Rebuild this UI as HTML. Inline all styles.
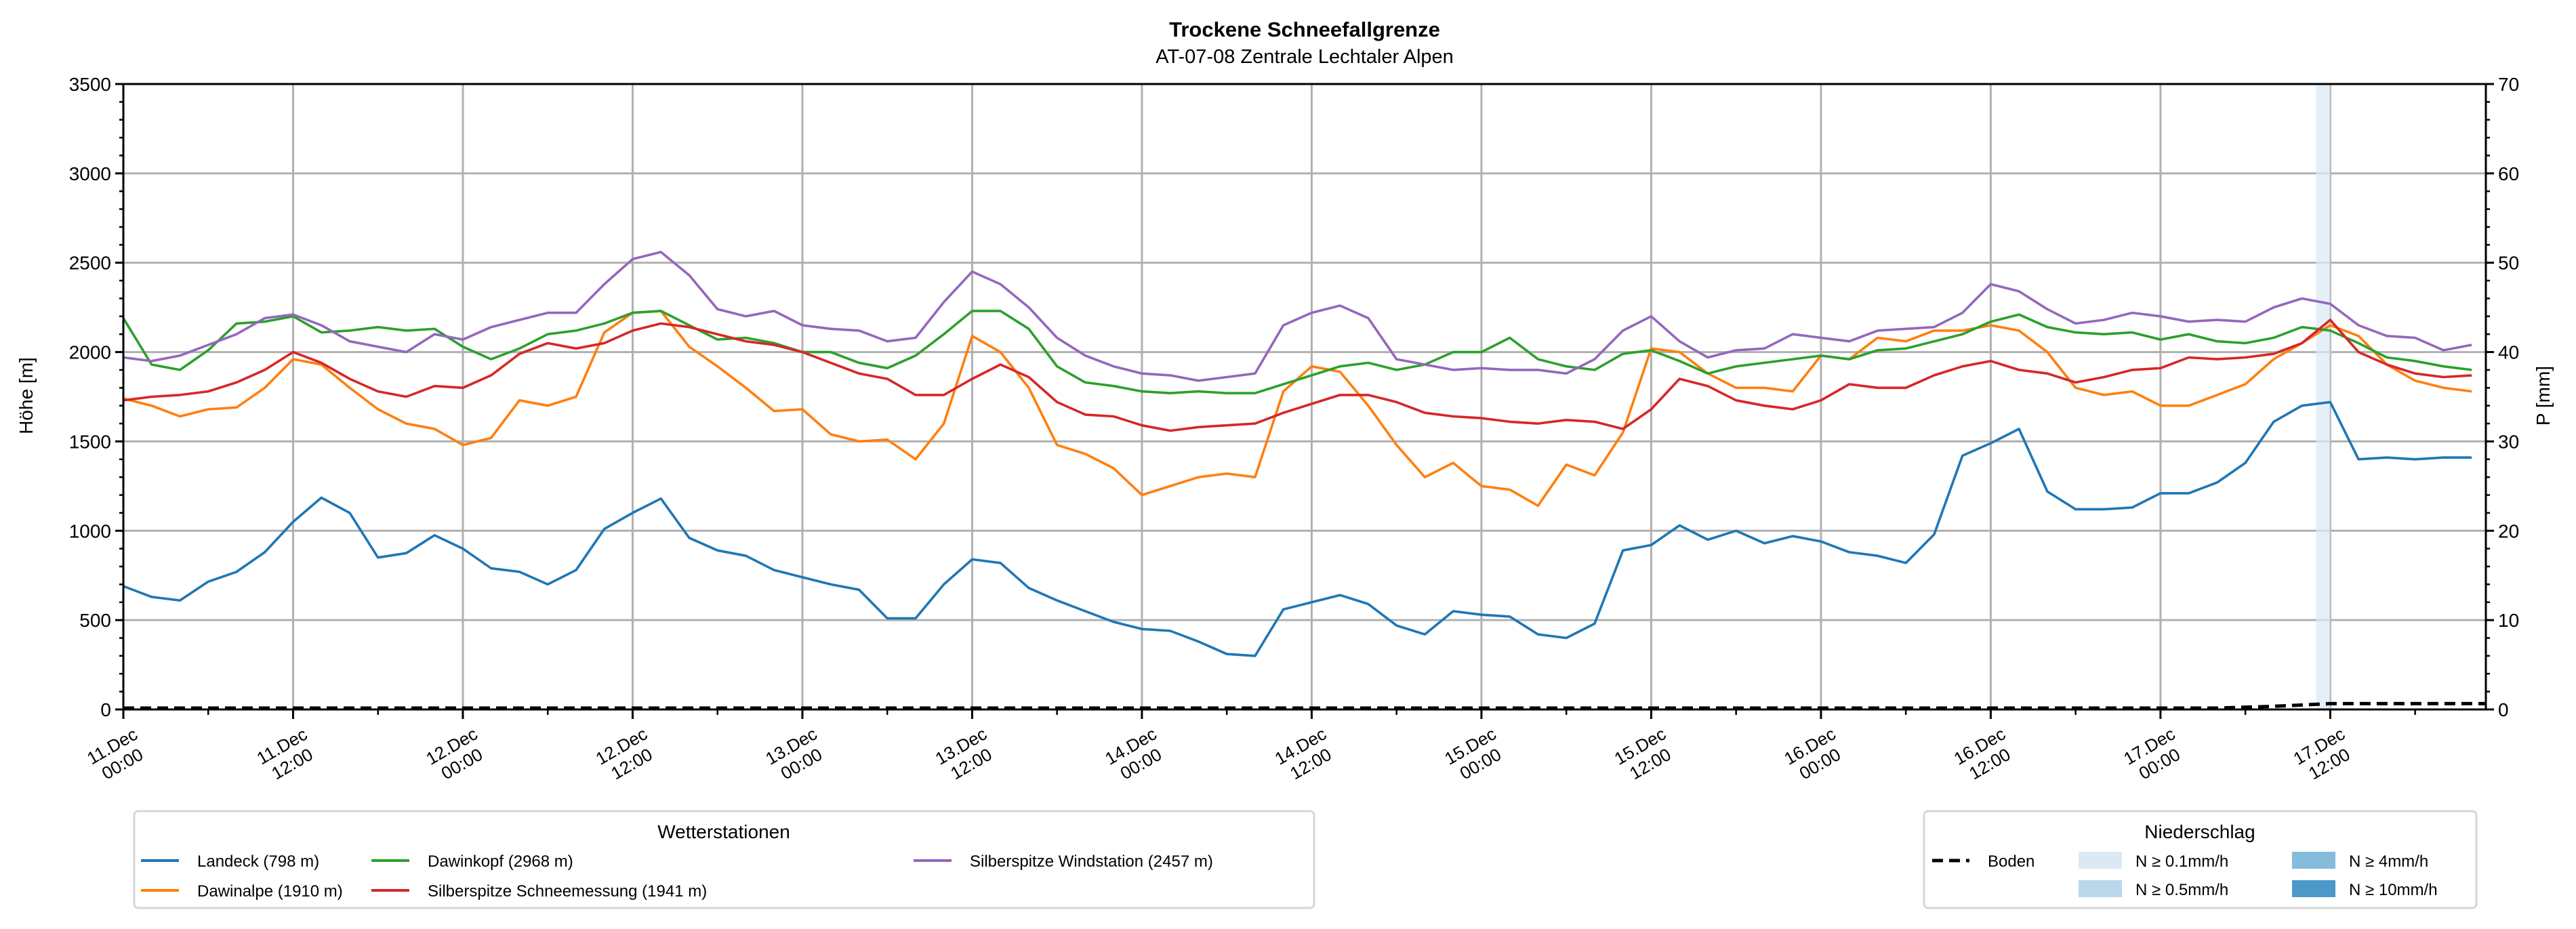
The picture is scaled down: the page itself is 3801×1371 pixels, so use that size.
<!DOCTYPE html>
<html><head><meta charset="utf-8"><style>
html,body{margin:0;padding:0;background:#fff}
svg{display:block;font-family:"Liberation Sans","DejaVu Sans",sans-serif}
</style></head><body>
<svg id="chart" width="3801" height="1371" viewBox="0 0 3801 1371" xmlns="http://www.w3.org/2000/svg">
<text x="1925" y="54" text-anchor="middle" font-size="31" font-weight="bold">Trockene Schneefallgrenze</text>
<text x="1925" y="93" text-anchor="middle" font-size="29">AT-07-08 Zentrale Lechtaler Alpen</text>
<g id="grid"></g>
<g id="precip"></g>
<g id="series"></g>
<g id="axes"></g>
<text transform="translate(48,584) rotate(-90)" text-anchor="middle" font-size="28">Höhe [m]</text>
<text transform="translate(3762,584) rotate(-90)" text-anchor="middle" font-size="28">P [mm]</text>
<g>
<rect x="198" y="1197" width="1741" height="143" rx="6" fill="#fff" stroke="#d6d6d6" stroke-width="3"/>
<text x="1068" y="1237" text-anchor="middle" font-size="28">Wetterstationen</text>
</g>
<g id="legend1"></g>
<g>
<rect x="2839" y="1197" width="815" height="143" rx="6" fill="#fff" stroke="#d6d6d6" stroke-width="3"/>
<text x="3246" y="1237" text-anchor="middle" font-size="28">Niederschlag</text>
<line x1="2851" y1="1270" x2="2906" y2="1270" stroke="#000" stroke-width="5" stroke-dasharray="16,9"/>
<text x="2933" y="1279" font-size="24">Boden</text>
<rect x="3067" y="1257" width="64" height="25" fill="#dbe9f6"/>
<text x="3151" y="1279" font-size="24">N ≥ 0.1mm/h</text>
<rect x="3067" y="1299" width="64" height="25" fill="#bad6eb"/>
<text x="3151" y="1321" font-size="24">N ≥ 0.5mm/h</text>
<rect x="3382" y="1257" width="64" height="25" fill="#84bcdb"/>
<text x="3466" y="1279" font-size="24">N ≥ 4mm/h</text>
<rect x="3382" y="1299" width="64" height="25" fill="#4b98c9"/>
<text x="3466" y="1321" font-size="24">N ≥ 10mm/h</text>
</g>
</svg>
<script>
const hoursStep = 2;
const xTickLabels = ["11.Dec|00:00","11.Dec|12:00","12.Dec|00:00","12.Dec|12:00","13.Dec|00:00","13.Dec|12:00","14.Dec|00:00","14.Dec|12:00","15.Dec|00:00","15.Dec|12:00","16.Dec|00:00","16.Dec|12:00","17.Dec|00:00","17.Dec|12:00"];
const yTicks = [0,500,1000,1500,2000,2500,3000,3500];
const y2Ticks = [0,10,20,30,40,50,60,70];
const stationNames = ["Landeck (798 m)","Dawinalpe (1910 m)","Dawinkopf (2968 m)","Silberspitze Schneemessung (1941 m)","Silberspitze Windstation (2457 m)"];
const landeck = [690,630,610,715,770,880,1050,1185,1100,850,875,975,900,790,770,700,780,1010,1100,1180,960,890,860,780,740,700,670,510,510,700,840,820,680,610,550,490,450,440,380,310,300,560,600,640,590,470,420,550,530,520,420,400,480,890,920,1030,950,1000,930,970,940,880,860,820,980,1420,1490,1570,1220,1120,1120,1130,1210,1210,1270,1380,1610,1700,1720,1400,1410,1400,1410,1410];
const dawinalpe = [1740,1700,1640,1680,1690,1800,1960,1930,1800,1680,1600,1570,1480,1520,1730,1700,1750,2110,2220,2230,2030,1920,1800,1670,1680,1540,1500,1510,1400,1600,2090,2000,1800,1480,1430,1350,1200,1250,1300,1320,1300,1780,1920,1890,1700,1480,1300,1380,1250,1230,1140,1370,1310,1550,2020,2000,1880,1800,1800,1780,1980,1960,2080,2060,2120,2120,2150,2120,2000,1800,1760,1780,1700,1700,1760,1820,1960,2050,2150,2090,1930,1840,1800,1780];
const dawinkopf = [2190,1930,1900,2010,2160,2170,2200,2110,2120,2140,2120,2130,2030,1960,2020,2100,2120,2160,2220,2230,2150,2070,2080,2050,2000,2000,1940,1910,1980,2100,2230,2230,2130,1920,1830,1810,1780,1770,1780,1770,1770,1820,1870,1920,1940,1900,1930,2000,2000,2080,1960,1920,1900,1990,2010,1950,1880,1920,1940,1960,1980,1960,2010,2020,2060,2100,2170,2210,2140,2110,2100,2110,2070,2100,2060,2050,2080,2140,2120,2050,1970,1950,1920,1900];
const schneemessung = [1730,1750,1760,1780,1830,1900,2000,1940,1850,1780,1750,1810,1800,1870,1990,2050,2020,2050,2120,2160,2140,2100,2060,2040,2000,1940,1880,1850,1760,1760,1850,1930,1860,1720,1650,1640,1590,1560,1580,1590,1600,1660,1710,1760,1760,1720,1660,1640,1630,1610,1600,1620,1610,1570,1680,1850,1810,1730,1700,1680,1730,1820,1800,1800,1870,1920,1950,1900,1880,1830,1860,1900,1910,1970,1960,1970,1990,2050,2180,2000,1930,1880,1860,1870];
const windstation = [1970,1950,1980,2040,2100,2190,2210,2150,2060,2030,2000,2100,2070,2140,2180,2220,2220,2380,2520,2560,2430,2240,2200,2230,2150,2130,2120,2060,2080,2280,2450,2380,2250,2080,1980,1920,1880,1870,1840,1860,1880,2150,2220,2260,2190,1960,1930,1900,1910,1900,1900,1880,1960,2120,2200,2060,1970,2010,2020,2100,2080,2060,2120,2130,2140,2220,2380,2340,2240,2160,2180,2220,2200,2170,2180,2170,2250,2300,2270,2150,2090,2080,2010,2040];
const bodenHours = [0,148,152,156,160,167];
const bodenValues = [0,0,0.2,0.5,0.5,0.5];
const precipHours = [155];
const precipRates = [0.2];

const colors = ["#1f77b4","#ff7f0e","#2ca02c","#d62728","#9467bd"];
const seriesData = [landeck,dawinalpe,dawinkopf,schneemessung,windstation];
const L=182,R=3668,T=124,B=1047,HMAX=167;
const xs = h => L + h/HMAX*(R-L);
const ys = v => B - v/3500*(B-T);
const y2 = v => B - v/70*(B-T);
const NS="http://www.w3.org/2000/svg";
function mk(tag, parent, attrs){const e=document.createElementNS(NS,tag);for(const k in attrs)e.setAttribute(k,attrs[k]);parent.appendChild(e);return e;}
const grid=document.getElementById('grid'), axes=document.getElementById('axes'), ser=document.getElementById('series'), pr=document.getElementById('precip'), leg=document.getElementById('legend1');

yTicks.forEach(v=>{
  const g=mk('line',grid,{x1:L,x2:R,y1:ys(v),y2:ys(v),stroke:'#b0b0b0','stroke-width':3});
  
  
  const t=mk('line',axes,{x1:L-12,x2:L,y1:ys(v),y2:ys(v),stroke:'#000','stroke-width':3});
  
  
  const lb=mk('text',axes,{x:L-18,y:ys(v)+10,'text-anchor':'end','font-size':28});
  lb.textContent=v;
  
  
});
for(let v=100;v<3500;v+=100){ if(v%500===0) continue;
  const t=mk('line',axes,{x1:L-6,x2:L,y1:ys(v),y2:ys(v),stroke:'#000','stroke-width':2.5});
  
  
}
y2Ticks.forEach(v=>{
  const t=mk('line',axes,{x1:R,x2:R+12,y1:y2(v),y2:y2(v),stroke:'#000','stroke-width':3});
  
  
  const lb=mk('text',axes,{x:R+18,y:y2(v)+10,'font-size':28});
  lb.textContent=v;
  
  
});
for(let v=2;v<70;v+=2){ if(v%10===0) continue;
  const t=mk('line',axes,{x1:R,x2:R+6,y1:y2(v),y2:y2(v),stroke:'#000','stroke-width':2.5});
  
  
}
xTickLabels.forEach((s,i)=>{
  const x=xs(i*12);
  const g=mk('line',grid,{x1:x,x2:x,y1:T,y2:B,stroke:'#b0b0b0','stroke-width':3});
  
  
  const t=mk('line',axes,{x1:x,x2:x,y1:B,y2:B+14,stroke:'#000','stroke-width':3});
  
  
  const parts=s.split('|');
  const tx=mk('text',axes,{transform:`translate(${x-12},${B+62}) rotate(-30)`,'text-anchor':'middle','font-size':26});
  
  
  const a=mk('tspan',tx,{x:0,y:0}); a.textContent=parts[0];
  const b=mk('tspan',tx,{x:0,y:30}); b.textContent=parts[1];
});
for(let i=0;i<14;i++){const x=xs(i*12+6);
  const t=mk('line',axes,{x1:x,x2:x,y1:B,y2:B+8,stroke:'#000','stroke-width':2.5});
  
  
}
precipHours.forEach((h,i)=>{
  const c=precipRates[i]>=10?'#4b98c9':precipRates[i]>=4?'#84bcdb':precipRates[i]>=0.5?'#bad6eb':'#dbe9f6';
  const r=mk('rect',pr,{x:xs(h),y:T,width:xs(h+1)-xs(h),height:B-T,fill:c,opacity:0.75});
  
  
});
seriesData.forEach((arr,si)=>{
  const d=arr.map((v,i)=>(i?'L':'M')+xs(i*hoursStep).toFixed(1)+','+ys(v).toFixed(1)).join(' ');
  const p=mk('path',ser,{d:d,fill:'none',stroke:colors[si],'stroke-width':3.6,'stroke-linejoin':'round'});
  
  
});
{
  const d=bodenHours.map((h,i)=>(i?'L':'M')+xs(h).toFixed(1)+','+(y2(bodenValues[i])-2).toFixed(1)).join(' ');
  const p=mk('path',ser,{d:d,fill:'none',stroke:'#000','stroke-width':5,'stroke-dasharray':'16,9'});
  
  
}
const frame=mk('rect',axes,{x:L,y:T,width:R-L,height:B-T,fill:'none',stroke:'#000','stroke-width':3});


const legPos=[[208,1270],[208,1314],[548,1270],[548,1314],[1348,1270]];
stationNames.forEach((n,i)=>{
  const [x,y]=legPos[i];
  const l=mk('line',leg,{x1:x,x2:x+56,y1:y,y2:y,stroke:colors[i],'stroke-width':4});
  
  
  const t=mk('text',leg,{x:x+83,y:y+9,'font-size':24});
  t.textContent=n;
  
  
});
</script>
</body></html>
